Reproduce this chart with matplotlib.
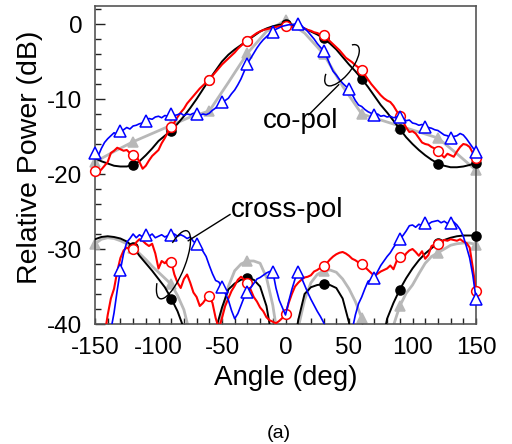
import numpy as np
import matplotlib.pyplot as plt
from matplotlib.patches import Arc
from matplotlib.transforms import ScaledTranslation
from matplotlib.ticker import MultipleLocator

plt.rcParams['font.family'] = ['Liberation Sans', 'DejaVu Sans']
plt.rcParams['axes.unicode_minus'] = False

# angle grids (deg)
ang_sim = np.arange(-150, 151, 5)
ang_meas = np.arange(-150, 150.1, 2.5)
ang_gray = np.arange(-150, 151, 15)

# ---- co-pol ----
co_sim_black = [-17.9, -18.3, -18.6, -18.9, -19.0, -19.0, -18.8, -18.3, -17.5, -16.6,
                -15.6, -14.9, -14.2, -13.3, -12.3, -11.2, -10.0, -8.7, -7.4, -6.2,
                -5.0, -4.1, -3.4, -2.8, -2.2, -1.6, -1.0, -0.6, -0.3, -0.1,
                0.0, -0.1, -0.3, -0.6, -1.0, -1.4, -1.9, -2.6, -3.4, -4.4,
                -5.4, -6.3, -7.3, -8.4, -9.6, -10.8, -11.8, -12.9, -14.0, -15.1,
                -16.0, -16.8, -17.5, -18.1, -18.6, -18.9, -19.1, -19.1, -19.0, -18.8,
                -18.5]

co_sim_gray = [-18.4, -17.0, -15.7, -14.6, -13.5, -12.4, -11.6, -7.8, -3.9, -1.0,
               0.5, -1.2, -4.0, -8.3, -12.0, -12.8, -13.6, -14.4, -15.2, -17.3,
               -19.5]

co_meas_red = [-19.6, -19.8, -19.4, -18.9, -18.4, -17.2, -16.9, -16.5, -16.7, -16.9,
               -16.8, -17.2, -17.4, -17.6, -18.4, -19.3, -18.9, -18.2, -17.6, -17.2,
               -16.8, -15.9, -15.2, -14.4, -13.7, -13.1, -12.4, -11.8, -11.3, -10.6,
               -10.1, -9.6, -9.1, -8.6, -8.2, -7.8, -7.4, -6.9, -6.4, -5.9,
               -5.4, -5.0, -4.6, -4.2, -3.8, -3.3, -2.9, -2.5, -2.2, -1.8,
               -1.5, -1.2, -1.0, -0.8, -0.7, -0.6, -0.5, -0.4, -0.3, -0.3,
               -0.3, -0.3, -0.4, -0.4, -0.5, -0.5, -0.6, -0.8, -0.9, -1.1,
               -1.2, -1.4, -1.5, -1.9, -2.3, -2.7, -3.1, -3.5, -4.0, -4.5,
               -4.8, -5.1, -5.5, -5.8, -6.1, -6.8, -7.4, -8.0, -8.5, -9.0,
               -9.5, -9.9, -10.2, -10.4, -10.9, -11.6, -12.2, -13.0, -13.8, -14.4,
               -14.3, -14.6, -15.2, -15.8, -16.0, -16.1, -16.4, -16.6, -16.9, -17.4,
               -17.8, -17.3, -17.5, -17.7, -17.0, -16.4, -16.0, -16.1, -16.4, -17.2,
               -17.9]

co_meas_blue = [-17.2, -17.6, -16.6, -15.8, -15.3, -14.9, -14.5, -14.7, -14.3, -14.1,
                -13.8, -14.0, -13.6, -13.5, -13.3, -13.2, -12.9, -12.6, -12.7, -12.4,
                -12.3, -12.5, -12.2, -12.3, -12.0, -12.2, -12.1, -11.9, -12.2, -12.0,
                -12.1, -11.9, -12.0, -12.2, -12.0, -12.1, -11.9, -11.5, -11.2, -10.8,
                -10.4, -10.2, -9.9, -9.3, -8.8, -8.1, -7.3, -6.3, -5.3, -4.6,
                -3.9, -3.2, -2.6, -2.1, -1.7, -1.3, -1.0, -0.7, -0.5, -0.3,
                -0.2, -0.1, -0.1, 0.0, 0.0, -0.2, -0.6, -1.0, -1.5, -2.0,
                -2.6, -3.1, -3.6, -4.4, -5.4, -6.3, -6.8, -7.4, -7.9, -8.3,
                -8.7, -9.4, -10.2, -10.8, -11.0, -11.4, -11.7, -11.9, -12.1, -12.0,
                -12.3, -12.2, -12.4, -12.3, -12.5, -12.4, -12.4, -12.6, -12.9, -12.8,
                -13.2, -13.3, -13.5, -13.4, -13.7, -13.8, -13.9, -14.1, -14.2, -14.5,
                -14.8, -14.9, -15.2, -15.0, -14.9, -14.6, -14.8, -15.3, -15.9, -16.5,
                -17.0]

# ---- cross-pol ----
x_sim_black = [-28.7, -28.4, -28.3, -28.4, -28.6, -29.0, -29.7, -30.9, -31.9, -32.9,
               -34.0, -35.1, -36.6, -38.3, -40.6, -45.0, -52.0, -52.0, -46.0, -40.8,
               -37.8, -35.4, -34.6, -34.1, -33.9, -34.1, -35.0, -37.6, -42.5, -50.0,
               -52.0, -45.0, -39.5, -36.0, -35.1, -34.8, -34.7, -34.8, -35.2, -36.6,
               -39.8, -46.0, -52.0, -52.0, -50.0, -43.5, -39.3, -37.2, -35.4, -33.9,
               -32.6, -31.5, -30.6, -29.9, -29.2, -28.8, -28.5, -28.3, -28.2, -28.2,
               -28.2]

x_sim_gray = [-29.3, -28.7, -28.5, -28.6, -28.9, -29.3, -29.8, -30.6, -31.4, -32.3,
              -33.1, -33.9, -34.7, -36.2, -38.1, -41.5, -47.0, -52.0, -52.0, -44.0,
              -38.6, -35.0, -32.9, -32.0, -31.6, -31.6, -31.9, -33.8, -37.5, -43.0,
              -50.0, -47.0, -40.5, -36.8, -34.5, -33.4, -32.9, -32.8, -33.1, -34.0,
              -35.3, -37.0, -39.2, -44.0, -50.0, -50.0, -44.0, -40.2, -37.6, -35.9,
              -34.8, -33.3, -31.9, -31.0, -30.5, -30.0, -29.5, -29.3, -29.2, -29.2,
              -29.4]

x_meas_red = [-46.0, -46.0, -44.0, -41.5, -38.8, -36.6, -35.3, -33.0, -31.2, -30.2,
              -29.8, -30.1, -30.0, -29.1, -28.7, -28.9, -29.3, -29.6, -29.3, -30.6,
              -32.6, -31.6, -31.9, -31.4, -31.7, -33.4, -34.5, -35.2, -34.0, -33.4,
              -34.5, -35.8, -36.4, -37.6, -37.2, -36.6, -36.3, -37.2, -39.2, -40.6,
              -39.2, -37.6, -36.6, -35.6, -34.9, -34.1, -33.7, -34.1, -34.5, -35.4,
              -36.4, -37.0, -37.8, -38.3, -39.1, -39.5, -39.7, -39.9, -39.6, -39.2,
              -38.7, -37.2, -36.0, -35.0, -34.5, -34.1, -33.8, -33.7, -33.5, -33.0,
              -32.8, -32.5, -32.3, -31.9, -31.4, -31.0, -30.7, -30.5, -30.4, -30.6,
              -30.9, -31.3, -31.5, -31.8, -32.0, -32.4, -32.8, -33.2, -33.6, -33.3,
              -33.0, -32.8, -32.6, -32.2, -32.7, -31.6, -31.1, -31.4, -30.6, -30.2,
              -30.0, -30.4, -30.9, -30.3, -31.3, -30.8, -29.6, -29.4, -29.3, -29.0,
              -28.8, -28.9, -28.7, -28.8, -28.9, -28.7, -29.0, -29.2, -29.8, -32.5,
              -35.6]

x_meas_blue = [-46.0, -46.0, -46.0, -45.0, -43.0, -40.8, -38.5, -35.5, -32.8, -30.6,
               -29.1, -28.6, -28.0, -28.5, -28.1, -28.4, -28.1, -28.3, -28.0, -28.5,
               -28.3, -28.1, -28.4, -28.2, -28.1, -28.0, -28.3, -28.1, -28.3, -28.6,
               -28.4, -29.0, -29.3, -29.5, -30.3, -31.0, -32.2, -33.3, -34.2, -34.4,
               -35.1, -35.9, -36.8, -38.2, -39.3, -38.6, -37.5, -36.4, -35.7, -35.2,
               -34.6, -34.0, -33.8, -33.5, -33.2, -33.0, -33.0, -35.2, -36.8, -37.8,
               -38.8, -37.0, -35.4, -34.0, -33.1, -33.8, -34.8, -35.8, -36.7, -37.5,
               -38.3, -39.0, -39.8, -41.0, -43.0, -45.0, -46.0, -46.0, -46.0, -45.0,
               -43.0, -40.8, -38.8, -37.3, -36.4, -35.3, -34.3, -34.1, -33.8, -33.0,
               -32.2, -31.6, -31.0, -30.5, -29.8, -29.2, -28.7, -28.2, -27.6, -26.9,
               -26.8, -27.1, -26.7, -26.9, -26.5, -26.7, -26.4, -26.3, -26.2, -26.5,
               -26.3, -26.6, -26.5, -26.4, -26.8, -27.4, -28.3, -29.7, -31.2, -33.5,
               -36.6]

X_TICKS = [-150, -100, -50, 0, 50, 100, 150]
Y_TICKS = [0, -10, -20, -30, -40]

fig = plt.figure(figsize=(5.12, 4.44), dpi=100)
ax = fig.add_axes([95 / 512, 120 / 444, 381 / 512, 318 / 444])


def draw(x, y, color, lw, marker, mfc, ms, every, z, start=0):
    x = np.asarray(x, float)
    y = np.asarray(y, float)
    ax.plot(x, y, color=color, lw=lw, zorder=z, solid_joinstyle='round')
    xm, ym = x[start::every], y[start::every]
    keep = ym > -39.5
    ax.plot(xm[keep], ym[keep], ls='none', marker=marker, mfc=mfc, mec=color,
            ms=ms, mew=1.1, zorder=z + 0.5, clip_on=False)


GRAY = '#b8b8b8'
RED = '#ff0000'
BLUE = '#0000ff'

# simulated (smooth) then measured (noisy)
draw(ang_gray, co_sim_gray, GRAY, 2.0, '^', GRAY, 7, 2, 2)
draw(ang_sim, x_sim_gray, GRAY, 2.0, '^', GRAY, 7, 6, 2)
draw(ang_sim, co_sim_black, 'black', 1.4, 'o', 'black', 6.5, 6, 3, start=6)
draw(ang_sim, x_sim_black, 'black', 1.4, 'o', 'black', 6.5, 6, 3, start=6)
draw(ang_meas, co_meas_red, RED, 1.5, 'o', 'white', 7, 12, 4)
draw(ang_meas, x_meas_red, RED, 1.5, 'o', 'white', 7, 12, 4)
draw(ang_meas, co_meas_blue, BLUE, 1.2, '^', 'white', 8, 8, 5)
draw(ang_meas, x_meas_blue, BLUE, 1.2, '^', 'white', 8, 8, 5)

ax.set_xlim(-150, 150)
ax.set_ylim(-40, 2.4)
ax.set_xticks(X_TICKS)
ax.set_yticks(Y_TICKS)
ax.xaxis.set_minor_locator(MultipleLocator(10))
ax.yaxis.set_minor_locator(MultipleLocator(2))
ax.tick_params(axis='both', which='both', direction='in', top=False, right=False,
               labelsize=17.5, pad=9, color='#222222')
ax.tick_params(axis='x', which='both', length=4.5, width=1)
ax.tick_params(axis='y', which='major', length=7.5, width=1)
ax.tick_params(axis='y', which='minor', length=4, width=1)
for s in ax.spines.values():
    s.set_color('#555555')
    s.set_linewidth(1.2)

ax.set_xlabel('Angle (deg)', fontsize=20)
ax.set_ylabel('Relative Power (dB)', fontsize=20.5)
ax.xaxis.set_label_coords(0.5, -0.128)
ax.yaxis.set_label_coords(-0.137, 0.524)

# annotations
ax.text(12.2, -13.9, 'co-pol', fontsize=20, ha='center', va='baseline', zorder=10)
ax.text(1.6, -25.7, 'cross-pol', fontsize=20, ha='center', va='baseline', zorder=10)
ax.plot([18.3, 41.9], [-12.1, -8.1], color='black', lw=1.0, zorder=10)
ax.plot([-76.6, -43.7], [-28.9, -25.4], color='black', lw=1.0, zorder=10)

tr_co = fig.dpi_scale_trans + ScaledTranslation(44.5, -5.5, ax.transData)
ax.add_patch(Arc((0, 0), 0.5, 0.2, angle=52, theta1=156, theta2=12,
                 transform=tr_co, color='black', lw=1.0, zorder=10))
tr_x = fig.dpi_scale_trans + ScaledTranslation(-88.2, -32.1, ax.transData)
ax.add_patch(Arc((0, 0), 0.73, 0.22, angle=68, theta1=160, theta2=25,
                 transform=tr_x, color='black', lw=1.0, zorder=10))

fig.text(279 / 512, 1 - 433 / 444, '(a)', fontsize=14, ha='center', va='center')

fig.savefig('out.png', dpi=100)
